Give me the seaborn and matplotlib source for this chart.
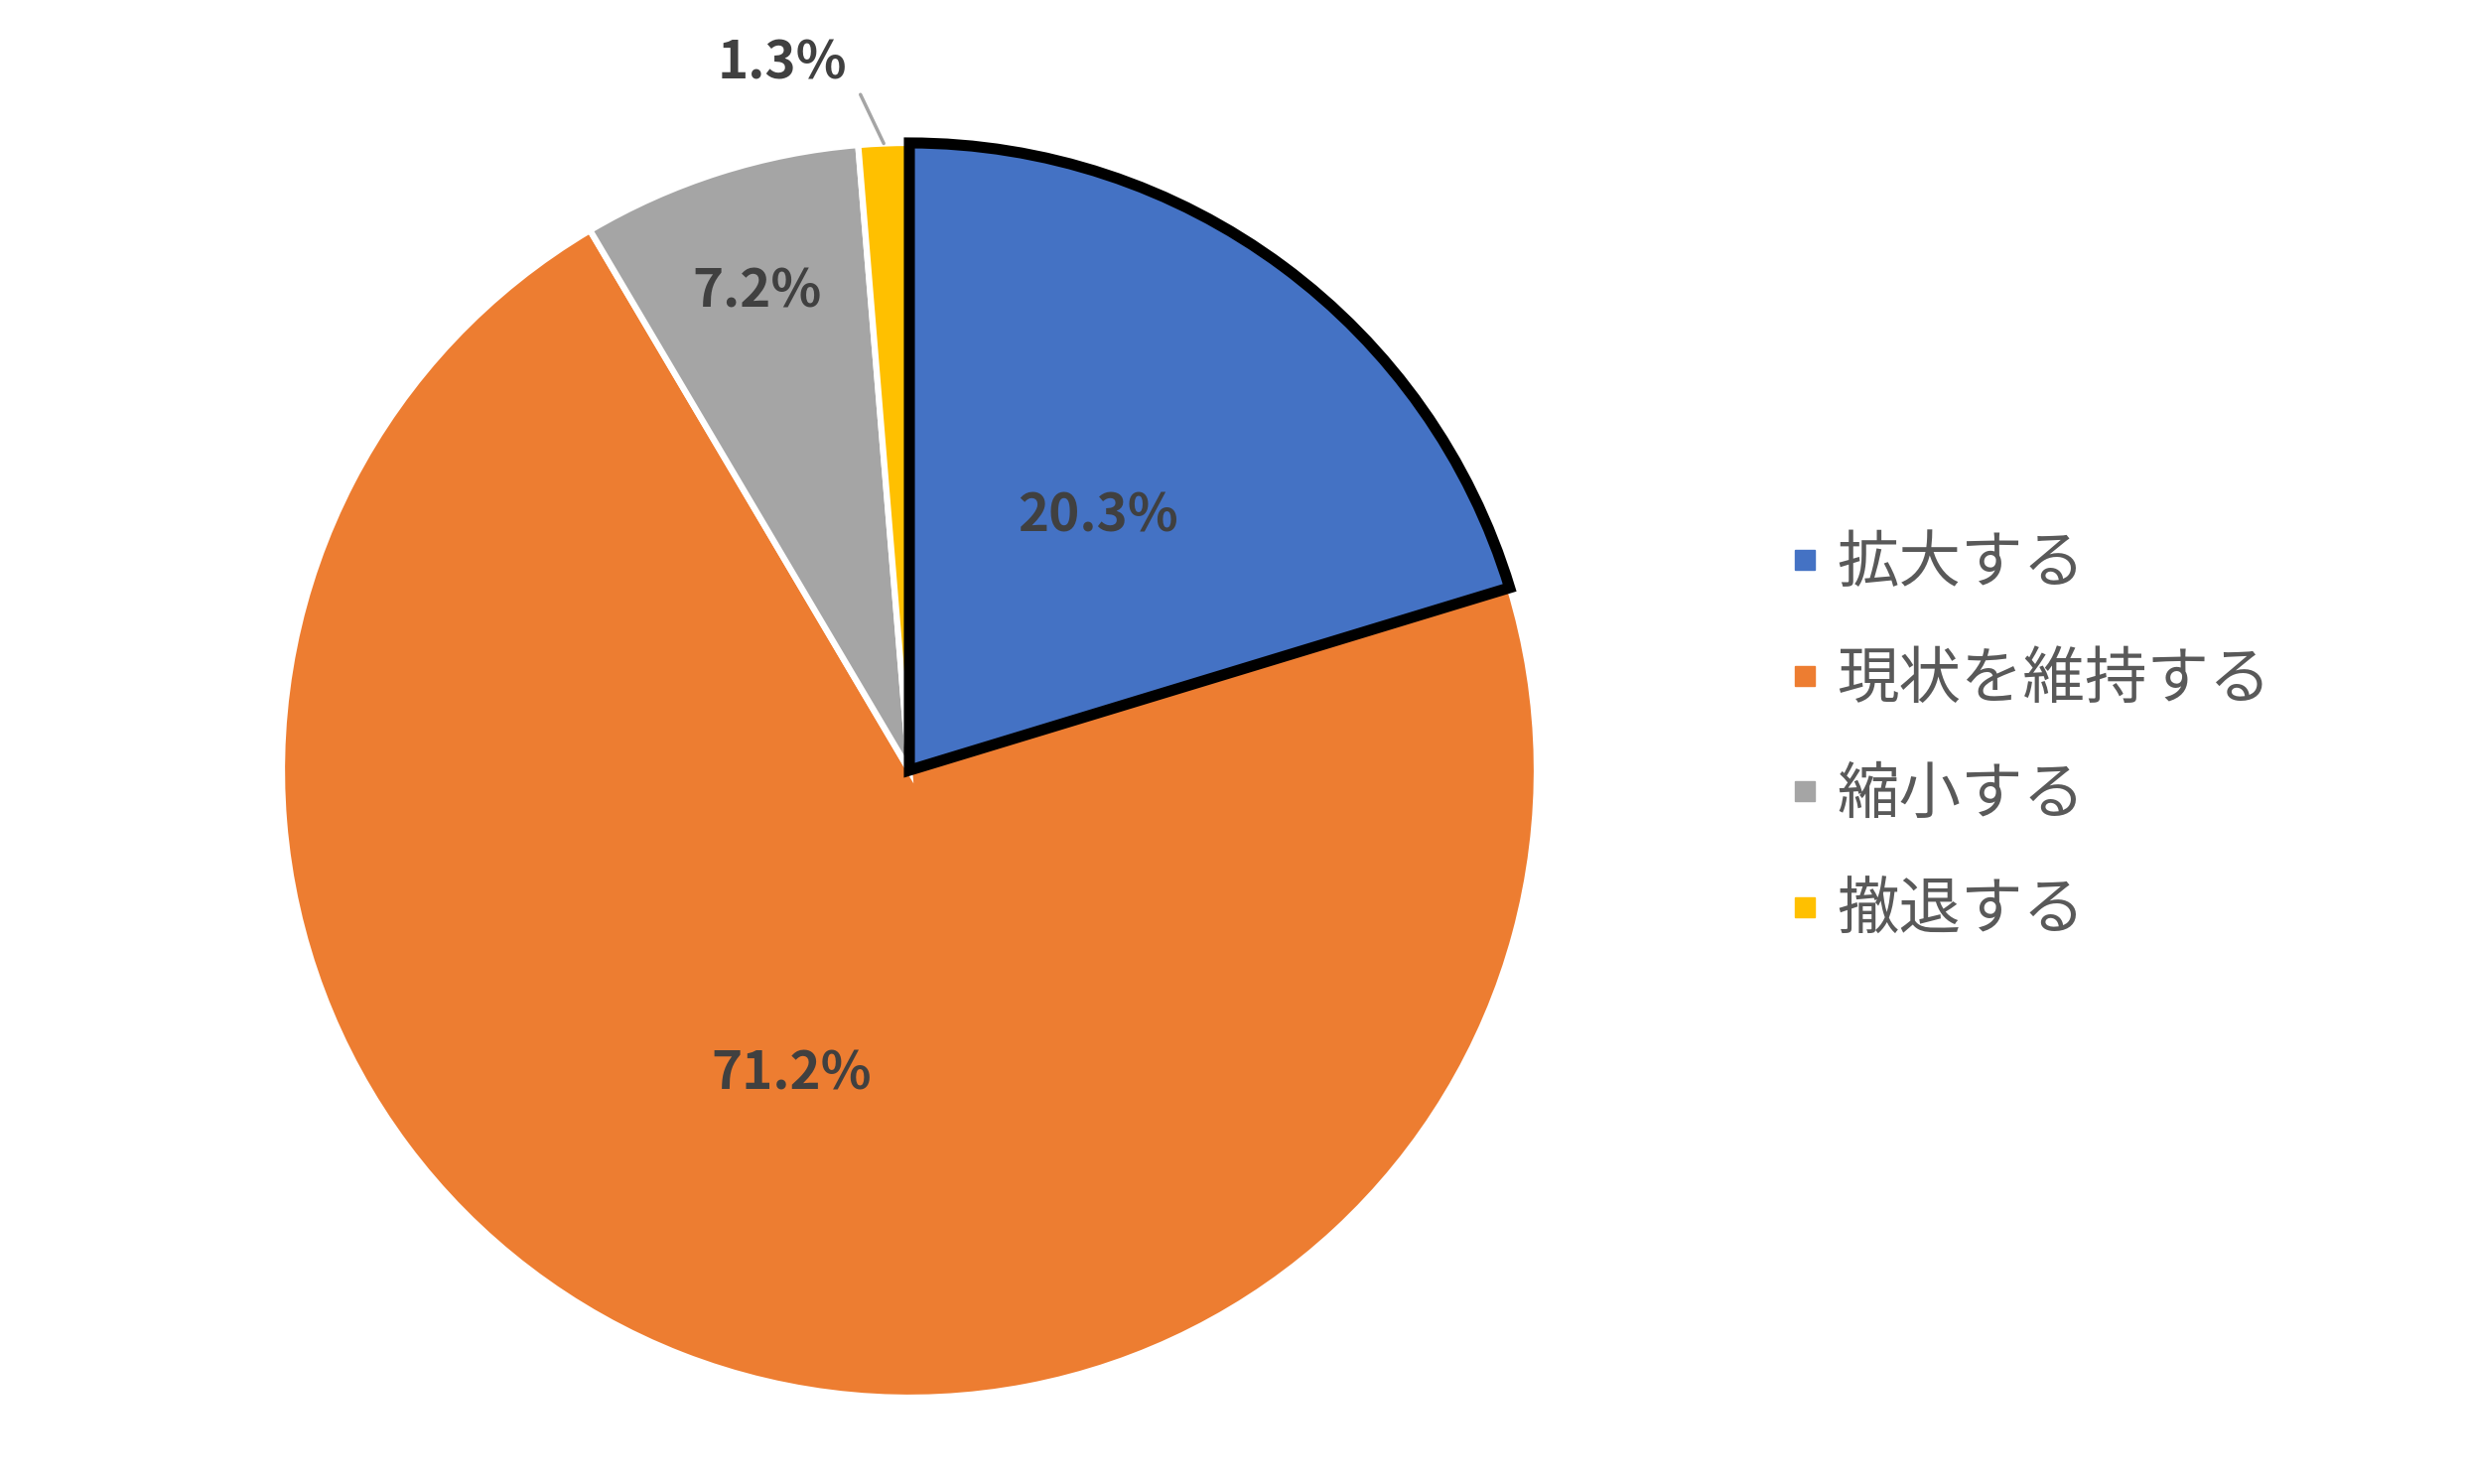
import numpy as np
import matplotlib
matplotlib.use("Agg")
import matplotlib.pyplot as plt
from matplotlib.lines import Line2D
import seaborn as sns

# -------------------------- データ --------------------------
categories = ["拡大する", "現状を維持する", "縮小する", "撤退する"]
values = [20.3, 71.2, 7.2, 1.3]
colors = ["#4472C4", "#ED7D31", "#A5A5A5", "#FFC000"]
label_texts = ["20.3%", "71.2%", "7.2%", "1.3%"]

sns.set_theme(style="white")
plt.rcParams['font.family'] = ['Noto Sans CJK JP', 'DejaVu Sans']

W, H = 2484, 1495
fig = plt.figure(figsize=(W / 100, H / 100), dpi=100)
fig.patch.set_facecolor("white")

# 円の中心と半径（ピクセル）
cx, cy, r = 916, 719, 632
ax = fig.add_axes([(cx - r) / W, (cy - r) / H, 2 * r / W, 2 * r / H])

wedges, _ = ax.pie(values, colors=colors, startangle=90, counterclock=False,
                   radius=1.0, wedgeprops=dict(edgecolor="white", linewidth=4.5))
ax.set_xlim(-1, 1)
ax.set_ylim(-1, 1)
ax.set_aspect("equal")
ax.axis("off")

# 拡大する: 黒枠
wedges[0].set_edgecolor("black")
wedges[0].set_linewidth(8)
wedges[0].set_zorder(5)
wedges[0].set_joinstyle("miter")

# ラベル
dists = [0.505, 0.52, 0.80, None]
for w, txt, d in zip(wedges, label_texts, dists):
    mid = np.deg2rad((w.theta1 + w.theta2) / 2)
    if d is not None:
        ax.text(d * np.cos(mid), d * np.sin(mid), txt, ha="center", va="center",
                fontsize=38, fontweight="bold", color="#404040", zorder=10)
    else:
        # 小さい扇形は外側に引き出し線付き
        a_out = mid + np.deg2rad(1.8)
        ax.plot([1.0 * np.cos(mid), 1.08 * np.cos(a_out)],
                [1.0 * np.sin(mid), 1.08 * np.sin(a_out)],
                color="#A5A5A5", lw=2.5, clip_on=False, zorder=10)
        a_txt = mid + np.deg2rad(7.8)
        ax.text(1.15 * np.cos(a_txt), 1.145 * np.sin(a_txt), txt, ha="center", va="center",
                fontsize=38, fontweight="bold", color="#404040", clip_on=False, zorder=10)

# 凡例
handles = [Line2D([0], [0], marker="s", linestyle="none", markersize=14,
                  markerfacecolor=c, markeredgecolor=c) for c in colors]
leg = fig.legend(handles, categories, loc="center left",
                 bbox_to_anchor=(1805 / W, 1 - 743 / H), frameon=False,
                 fontsize=45, labelcolor="#595959", handlelength=0.4,
                 handletextpad=0.33, labelspacing=0.84, borderaxespad=0,
                 borderpad=0)

fig.savefig("out.png", dpi=100, facecolor="white")
